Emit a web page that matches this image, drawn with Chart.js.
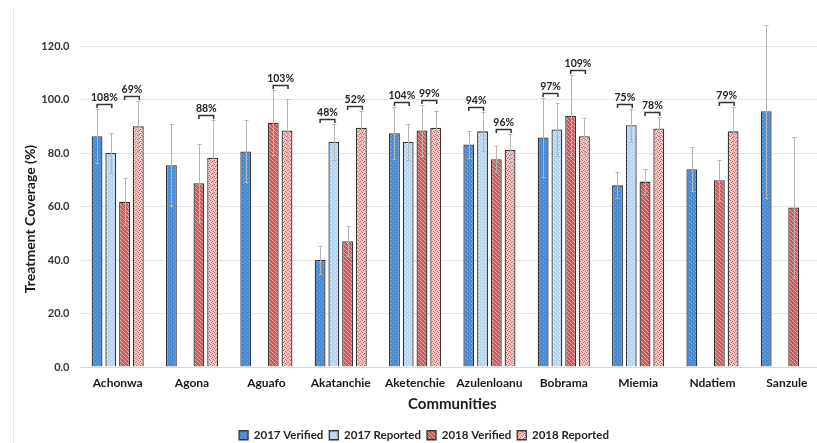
<!DOCTYPE html>
<html>
<head>
<meta charset="utf-8">
<script src="https://cdn.jsdelivr.net/npm/chart.js@4.4.0/dist/chart.umd.min.js"></script>
<style>
  html, body { margin: 0; padding: 0; background: #fff; overflow: hidden; }
</style>
</head>
<body>
<canvas id="myChart" width="824" height="443"></canvas>
<script>
// communities on the x axis
var communities = ['Achonwa', 'Agona', 'Aguafo', 'Akatanchie', 'Aketenchie',
                   'Azulenloanu', 'Bobrama', 'Miemia', 'Ndatiem', 'Sanzule'];

// treatment coverage (%) per series
var verified2017 = [86.3, 75.4, 80.6, 40.0, 87.4, 83.2, 85.8, 67.9, 73.9, 95.6];
var reported2017 = [80.0, null, null, 84.1, 84.1, 88.1, 88.8, 90.4, null, null];
var verified2018 = [61.8, 68.7, 91.3, 47.0, 88.4, 77.7, 93.9, 69.3, 69.8, 59.6];
var reported2018 = [90.0, 78.2, 88.4, 89.4, 89.4, 81.1, 86.3, 89.2, 88.1, null];

// error bar half widths
var errVerified2017 = [10.1, 15.3, 11.6, 5.1, 9.8, 5.1, 14.6, 4.9, 8.2, 32.4];
var errReported2017 = [7.3, null, null, 6.7, 6.7, 7.4, 9.9, 6.2, null, null];
var errVerified2018 = [8.7, 14.5, 12.2, 5.6, 9.7, 4.9, 15.1, 4.7, 7.7, 26.4];
var errReported2018 = [9.5, 14.3, 11.6, 6.2, 6.2, 6.0, 6.6, 4.1, 9.0, null];

// verified / reported ratio labels over each pair
var ratio2017 = ['108%', null, null, '48%', '104%', '94%', '97%', '75%', null, null];
var ratio2018 = ['69%', '88%', '103%', '52%', '99%', '96%', '109%', '78%', '79%', null];

var yTicks = [0, 20, 40, 60, 80, 100, 120];
var yTitle = 'Treatment Coverage (%)';

var ctx = document.getElementById('myChart').getContext('2d');

// small textures like the excel fills
function pattern(base, spot, cells) {
    var c = document.createElement('canvas');
    c.width = 4; c.height = 4;
    var g = c.getContext('2d');
    g.fillStyle = base;
    g.fillRect(0, 0, 4, 4);
    g.fillStyle = spot;
    cells.forEach(function (p) { g.fillRect(p[0], p[1], 1, 1); });
    return ctx.createPattern(c, 'repeat');
}

var fillV17 = pattern('#4a8ad0', '#7eaee0', [[1, 1], [3, 3]]);
var fillR17 = pattern('#b9d4ee', '#eef5fc', [[1, 1], [3, 3]]);
var fillV18 = pattern('#cc5858', '#eaa8a8', [[0, 0], [1, 1], [2, 2], [3, 3]]);
var fillR18 = pattern('#f3c9c9', '#d45a5a', [[0, 1], [2, 0], [1, 3], [3, 2]]);

var errorBars = {
    id: 'errorBars',
    beforeDraw: function (chart) {
        var c = chart.ctx;
        c.save();
        // faint frame edge of the original figure
        c.strokeStyle = '#e8e8e8';
        c.lineWidth = 1;
        c.beginPath();
        c.moveTo(13.5, 8);
        c.lineTo(13.5, 443);
        c.stroke();
        // y title, sits a bit below the plot middle in the original
        c.translate(30.5, 219);
        c.rotate(-Math.PI / 2);
        c.fillStyle = '#1a1a1a';
        c.font = 'bold 14px Lato';
        c.textAlign = 'center';
        c.textBaseline = 'middle';
        c.fillText(yTitle, 0, 0);
        c.restore();
    },
    afterLayout: function (chart) {
        // legend sits a little right of centre in the original
        var lg = chart.legend;
        var h = lg.bottom - lg.top;
        lg.left += 12;
        lg.right += 12;
        lg.top = 423.5;
        lg.bottom = lg.top + h;
    },
    afterDatasetsDraw: function (chart) {
        var c = chart.ctx, y = chart.scales.y;
        c.save();
        c.strokeStyle = '#b4b4b4';
        c.lineWidth = 1;
        chart.data.datasets.forEach(function (ds, i) {
            var bars = chart.getDatasetMeta(i).data;
            bars.forEach(function (bar, j) {
                var v = ds.data[j], e = ds.errors[j];
                if (v == null || e == null) return;
                var top = Math.round(y.getPixelForValue(v + e)) + 0.5;
                var bot = Math.round(y.getPixelForValue(v - e)) + 0.5;
                var x = Math.round(bar.x) + 0.5;
                c.beginPath();
                c.moveTo(x, top); c.lineTo(x, bot);
                c.moveTo(x - 2, top); c.lineTo(x + 2, top);
                c.moveTo(x - 2, bot); c.lineTo(x + 2, bot);
                c.stroke();
            });
        });

        // brackets with ratio labels
        var pairs = [[0, 1, ratio2017], [2, 3, ratio2018]];
        c.strokeStyle = '#333';
        c.lineWidth = 1.5;
        c.fillStyle = '#222';
        c.font = 'bold 10.5px Lato';
        c.textAlign = 'center';
        c.textBaseline = 'bottom';
        pairs.forEach(function (p) {
            var dsA = chart.data.datasets[p[0]], dsB = chart.data.datasets[p[1]];
            var barsA = chart.getDatasetMeta(p[0]).data, barsB = chart.getDatasetMeta(p[1]).data;
            p[2].forEach(function (txt, j) {
                if (!txt) return;
                var hi = 0;
                [dsA, dsB].forEach(function (ds) {
                    if (ds.data[j] != null) hi = Math.max(hi, ds.data[j] + (ds.errors[j] || 0));
                });
                var yy = Math.round(y.getPixelForValue(hi)) - 4.5;
                var x1 = barsA[j].x, x2 = barsB[j].x + 1;
                c.beginPath();
                c.moveTo(x1, yy + 3.5);
                c.lineTo(x1, yy);
                c.lineTo(x2, yy);
                c.lineTo(x2, yy + 3.5);
                c.stroke();
                c.fillText(txt, (x1 + x2) / 2, yy - 1.5);
            });
        });
        c.restore();
    }
};

Chart.defaults.font.family = 'Lato';
Chart.defaults.font.weight = 'bold';
Chart.defaults.color = '#262626';

var mychart = new Chart(ctx, {
    type: 'bar',
    data: {
        labels: communities,
        datasets: [{
            label: '2017 Verified',
            data: verified2017,
            errors: errVerified2017,
            backgroundColor: fillV17
        }, {
            label: '2017 Reported',
            data: reported2017,
            errors: errReported2017,
            backgroundColor: fillR17
        }, {
            label: '2018 Verified',
            data: verified2018,
            errors: errVerified2018,
            backgroundColor: fillV18
        }, {
            label: '2018 Reported',
            data: reported2018,
            errors: errReported2018,
            backgroundColor: fillR18
        }]
    },
    options: {
        responsive: false,
        animation: false,
        devicePixelRatio: 1,
        layout: { padding: { top: 46, left: 0, right: 0, bottom: 0 } },
        datasets: {
            bar: {
                categoryPercentage: 0.74,
                barPercentage: 0.79,
                borderColor: '#363636',
                borderWidth: 1.3
            }
        },
        plugins: {
            tooltip: { enabled: false },
            legend: {
                position: 'bottom',
                labels: {
                    boxWidth: 9,
                    boxHeight: 9,
                    padding: 6,
                    color: '#262626',
                    font: { size: 11.5, weight: 'bold' }
                }
            }
        },
        scales: {
            x: {
                grid: { display: false, drawTicks: false },
                border: { color: '#d9d9d9' },
                ticks: { padding: 9, color: '#1a1a1a', font: { size: 12, weight: 'bold' } },
                title: {
                    display: true,
                    text: 'Communities',
                    color: '#1a1a1a',
                    font: { size: 15, weight: 'bold' },
                    padding: { top: 0, bottom: 2 }
                },
                afterFit: function (scale) {
                    scale.height = 443 - scale.chart.legend.height - 367;
                }
            },
            y: {
                min: 0,
                max: 120,
                afterBuildTicks: function (scale) {
                    scale.ticks = yTicks.map(function (v) { return { value: v }; });
                },
                grid: { color: '#e6e6e6', drawTicks: false },
                border: { display: false },
                ticks: {
                    padding: 11,
                    color: '#333',
                    font: { size: 11, weight: 'bold' },
                    callback: function (v) { return v.toFixed(1); }
                },
                afterFit: function (scale) {
                    scale.width = 80.5;
                }
            }
        }
    },
    plugins: [errorBars]
});
</script>
</body>
</html>
